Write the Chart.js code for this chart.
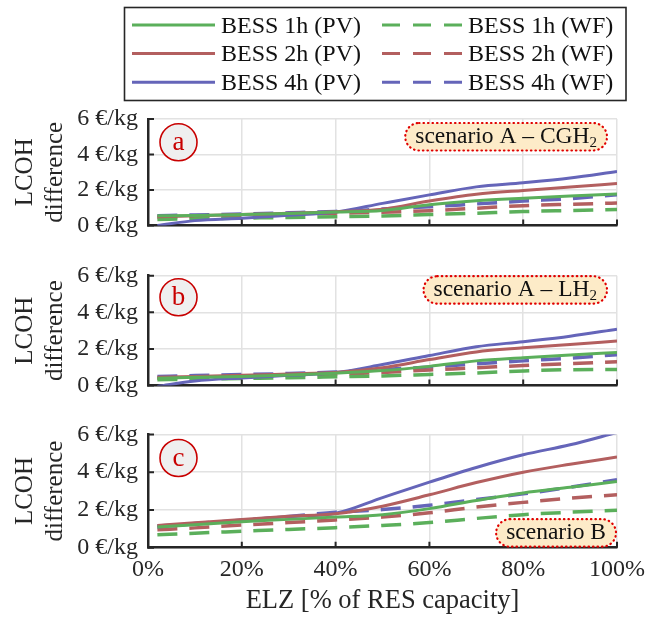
<!DOCTYPE html>
<html>
<head>
<meta charset="utf-8">
<script src="https://cdn.jsdelivr.net/npm/chart.js@4.4.1/dist/chart.umd.min.js"></script>
<style>
  html, body { margin: 0; padding: 0; background: #fff; }
  #wrap { position: relative; width: 659px; height: 621px; }
  canvas { position: absolute; left: 0; }
</style>
</head>
<body>
<div id="wrap">
  <canvas id="chartA" width="659" height="250" style="top:0px"></canvas>
  <canvas id="chartB" width="659" height="160" style="top:250px"></canvas>
  <canvas id="chartC" width="659" height="211" style="top:410px"></canvas>
</div>
<script>
// ELZ size in % of RES capacity
const elzShare = [2, 10, 20, 30, 40, 50, 60, 70, 80, 90, 100];
const xTicks = [0, 20, 40, 60, 80, 100];
const yTicks = [0, 2, 4, 6];
const seriesNames = ['BESS 1h (PV)', 'BESS 2h (PV)', 'BESS 4h (PV)', 'BESS 1h (WF)', 'BESS 2h (WF)', 'BESS 4h (WF)'];

// panel a - scenario A CGH2
const aPV1h = [0.55, 0.57, 0.62, 0.68, 0.76, 0.85, 1.18, 1.40, 1.54, 1.66, 1.78];
const aPV2h = [0.50, 0.55, 0.62, 0.70, 0.78, 0.92, 1.38, 1.76, 1.98, 2.17, 2.37];
const aPV4h = [0.00, 0.28, 0.42, 0.58, 0.76, 1.25, 1.73, 2.18, 2.41, 2.68, 3.05];
const aWF1h = [0.35, 0.38, 0.42, 0.46, 0.50, 0.54, 0.62, 0.70, 0.79, 0.85, 0.91];
const aWF2h = [0.45, 0.50, 0.55, 0.62, 0.70, 0.75, 0.84, 0.98, 1.12, 1.20, 1.27];
const aWF4h = [0.55, 0.60, 0.65, 0.72, 0.80, 0.93, 1.06, 1.22, 1.38, 1.52, 1.73];

// panel b - scenario A LH2
const bPV1h = [0.40, 0.45, 0.50, 0.58, 0.68, 0.82, 1.05, 1.35, 1.52, 1.67, 1.81];
const bPV2h = [0.45, 0.50, 0.56, 0.64, 0.72, 0.98, 1.42, 1.84, 2.06, 2.25, 2.43];
const bPV4h = [-0.05, 0.25, 0.42, 0.56, 0.71, 1.15, 1.64, 2.12, 2.40, 2.70, 3.08];
const bWF1h = [0.32, 0.35, 0.39, 0.43, 0.48, 0.53, 0.61, 0.69, 0.80, 0.87, 0.88];
const bWF2h = [0.40, 0.45, 0.50, 0.56, 0.63, 0.72, 0.85, 0.97, 1.10, 1.20, 1.30];
const bWF4h = [0.50, 0.55, 0.60, 0.66, 0.74, 0.88, 1.01, 1.19, 1.35, 1.50, 1.69];

// panel c - scenario B
const cPV1h = [1.10, 1.22, 1.38, 1.50, 1.62, 1.75, 2.07, 2.50, 2.90, 3.20, 3.50];
const cPV2h = [1.18, 1.32, 1.50, 1.66, 1.80, 2.20, 2.80, 3.45, 4.00, 4.42, 4.80];
const cPV4h = [1.10, 1.25, 1.45, 1.65, 1.82, 2.65, 3.47, 4.25, 4.92, 5.45, 6.10];
const cWF1h = [0.68, 0.77, 0.87, 0.97, 1.06, 1.18, 1.33, 1.55, 1.75, 1.88, 1.98];
const cWF2h = [0.95, 1.05, 1.20, 1.33, 1.47, 1.62, 1.85, 2.15, 2.40, 2.62, 2.80];
const cWF4h = [1.15, 1.28, 1.45, 1.65, 1.88, 2.02, 2.25, 2.55, 2.85, 3.20, 3.60];

const serif = "'Liberation Serif', 'Times New Roman', serif";
const ink = '#262626';
const lineColors = ['#5BAF5B', '#B35F5F', '#6565B9'];

Chart.defaults.font.family = serif;
Chart.defaults.color = ink;

function makeDatasets(series) {
    return series.map(function (values, i) {
        return {
            label: seriesNames[i],
            data: values.map(function (v, k) { return { x: elzShare[k], y: v }; }),
            borderColor: lineColors[i % 3],
            borderWidth: i < 3 ? 3 : 3.5,
            borderDash: i < 3 ? [] : [20, 12],
            pointRadius: 0,
            cubicInterpolationMode: 'monotone',
            fill: false
        };
    });
}

// inner tick marks, panel letter and scenario tag
const panelDeco = {
    id: 'panelDeco',
    afterDatasetsDraw(chart, args, opts) {
        const ctx = chart.ctx;
        const area = chart.chartArea;
        const xs = chart.scales.x, ys = chart.scales.y;
        ctx.save();
        ctx.strokeStyle = ink;
        ctx.lineWidth = 2;
        ctx.beginPath();
        yTicks.forEach(function (v) {
            const py = ys.getPixelForValue(v);
            ctx.moveTo(area.left, py);
            ctx.lineTo(area.left + 6, py);
        });
        xTicks.forEach(function (v) {
            const px = xs.getPixelForValue(v);
            ctx.moveTo(px, area.bottom);
            ctx.lineTo(px, area.bottom - 6);
        });
        ctx.stroke();

        // circled letter
        const cx = area.left + 30.5, cy = area.top + opts.letterTop;
        ctx.beginPath();
        ctx.arc(cx, cy, 18.5, 0, Math.PI * 2);
        ctx.fillStyle = '#efefef';
        ctx.fill();
        ctx.strokeStyle = '#c80000';
        ctx.lineWidth = 1.6;
        ctx.stroke();
        ctx.fillStyle = '#c80000';
        ctx.font = '27px ' + serif;
        ctx.textAlign = 'center';
        ctx.textBaseline = 'middle';
        ctx.fillText(opts.letter, cx, cy + 1);

        // scenario tag
        ctx.textAlign = 'left';
        ctx.textBaseline = 'alphabetic';
        ctx.font = '23.5px ' + serif;
        const w1 = ctx.measureText(opts.note).width;
        ctx.font = '15px ' + serif;
        const w2 = opts.sub ? ctx.measureText(opts.sub).width : 0;
        const boxW = w1 + w2 + 20, boxH = 27.5;
        const bx = area.right - opts.right - boxW;
        const by = opts.top !== undefined ? area.top + opts.top : area.bottom - opts.bottom - boxH;
        ctx.beginPath();
        ctx.roundRect(bx, by, boxW, boxH, boxH / 2);
        ctx.fillStyle = '#FDEBC8';
        ctx.fill();
        ctx.setLineDash([0.5, 4]);
        ctx.lineCap = 'round';
        ctx.lineWidth = 2.2;
        ctx.strokeStyle = '#E00000';
        ctx.stroke();
        ctx.setLineDash([]);
        ctx.fillStyle = '#111';
        const base = by + boxH / 2 + 6.5;
        ctx.font = '23.5px ' + serif;
        ctx.fillText(opts.note, bx + 10, base);
        if (opts.sub) {
            ctx.font = '15px ' + serif;
            ctx.fillText(opts.sub, bx + 10 + w1, base + 4);
        }
        ctx.restore();
    }
};

// framed legend in two columns above panel a
const legendBox = {
    id: 'legendBox',
    afterDraw(chart) {
        const ctx = chart.ctx;
        ctx.save();
        ctx.strokeStyle = ink;
        ctx.lineWidth = 1.6;
        ctx.strokeRect(124.5, 7.5, 501.5, 93);
        ctx.font = '24px ' + serif;
        ctx.textBaseline = 'alphabetic';
        ctx.textAlign = 'left';
        chart.data.datasets.forEach(function (ds, i) {
            const col = i < 3 ? 0 : 1;
            const row = i % 3;
            const x0 = col ? 382 : 132;
            const len = col ? 80 : 83;
            const y = 25 + row * 28.6;
            ctx.strokeStyle = ds.borderColor;
            ctx.lineWidth = 3;
            ctx.setLineDash(col ? [18, 13] : []);
            ctx.beginPath();
            ctx.moveTo(x0, y);
            ctx.lineTo(x0 + len, y);
            ctx.stroke();
            ctx.setLineDash([]);
            ctx.fillStyle = '#111';
            ctx.fillText(ds.label, x0 + len + 6, y + 7.5);
        });
        ctx.restore();
    }
};

function makePanel(id, series, padTop, xHeight, showX, deco, extraPlugins) {
    const ctx = document.getElementById(id).getContext('2d');
    return new Chart(ctx, {
        type: 'line',
        data: { datasets: makeDatasets(series) },
        plugins: [panelDeco].concat(extraPlugins || []),
        options: {
            responsive: false,
            animation: false,
            layout: { padding: { top: padTop, right: 42, bottom: 0, left: 0 } },
            plugins: {
                legend: { display: false },
                tooltip: { enabled: false },
                panelDeco: deco
            },
            scales: {
                x: {
                    type: 'linear',
                    min: 0,
                    max: 100,
                    ticks: {
                        display: showX,
                        stepSize: 20,
                        padding: 8,
                        font: { size: 24 },
                        callback: function (v) { return v + '%'; }
                    },
                    grid: { color: '#e2e2e2', lineWidth: 1.5, drawTicks: false },
                    border: { color: ink, width: 2.5 },
                    title: {
                        display: showX,
                        text: 'ELZ [% of RES capacity]',
                        font: { size: 26.5, lineHeight: 1.2 },
                        padding: { top: 0, bottom: 4 }
                    },
                    afterFit: function (scale) { scale.height = xHeight; }
                },
                y: {
                    min: 0,
                    max: 6,
                    ticks: {
                        stepSize: 2,
                        padding: 10,
                        font: { size: 24 },
                        callback: function (v) { return v + ' €/kg'; }
                    },
                    grid: { color: '#e2e2e2', lineWidth: 1.5, drawTicks: false },
                    border: { color: ink, width: 2.5 },
                    title: {
                        display: true,
                        text: ['LCOH', 'difference'],
                        font: { size: 25, lineHeight: 1.2 },
                        padding: { top: 10, bottom: 0 }
                    },
                    afterFit: function (scale) { scale.width = 148; }
                }
            }
        }
    });
}

makePanel('chartA', [aPV1h, aPV2h, aPV4h, aWF1h, aWF2h, aWF4h], 119, 13.5, false,
    { letter: 'a', letterTop: 23.3, note: 'scenario A \u2013 CGH', sub: '2', right: 10, top: 4 }, [legendBox]);
makePanel('chartB', [bPV1h, bPV2h, bPV4h, bWF1h, bWF2h, bWF4h], 25.7, 16, false,
    { letter: 'b', letterTop: 21.6, note: 'scenario A \u2013 LH', sub: '2', right: 10, top: 0.5 });
makePanel('chartC', [cPV1h, cPV2h, cPV4h, cWF1h, cWF2h, cWF4h], 20.7, 73.3, true,
    { letter: 'c', letterTop: 23.6, note: 'scenario B', sub: '', right: 1, bottom: 1 });
</script>
</body>
</html>
